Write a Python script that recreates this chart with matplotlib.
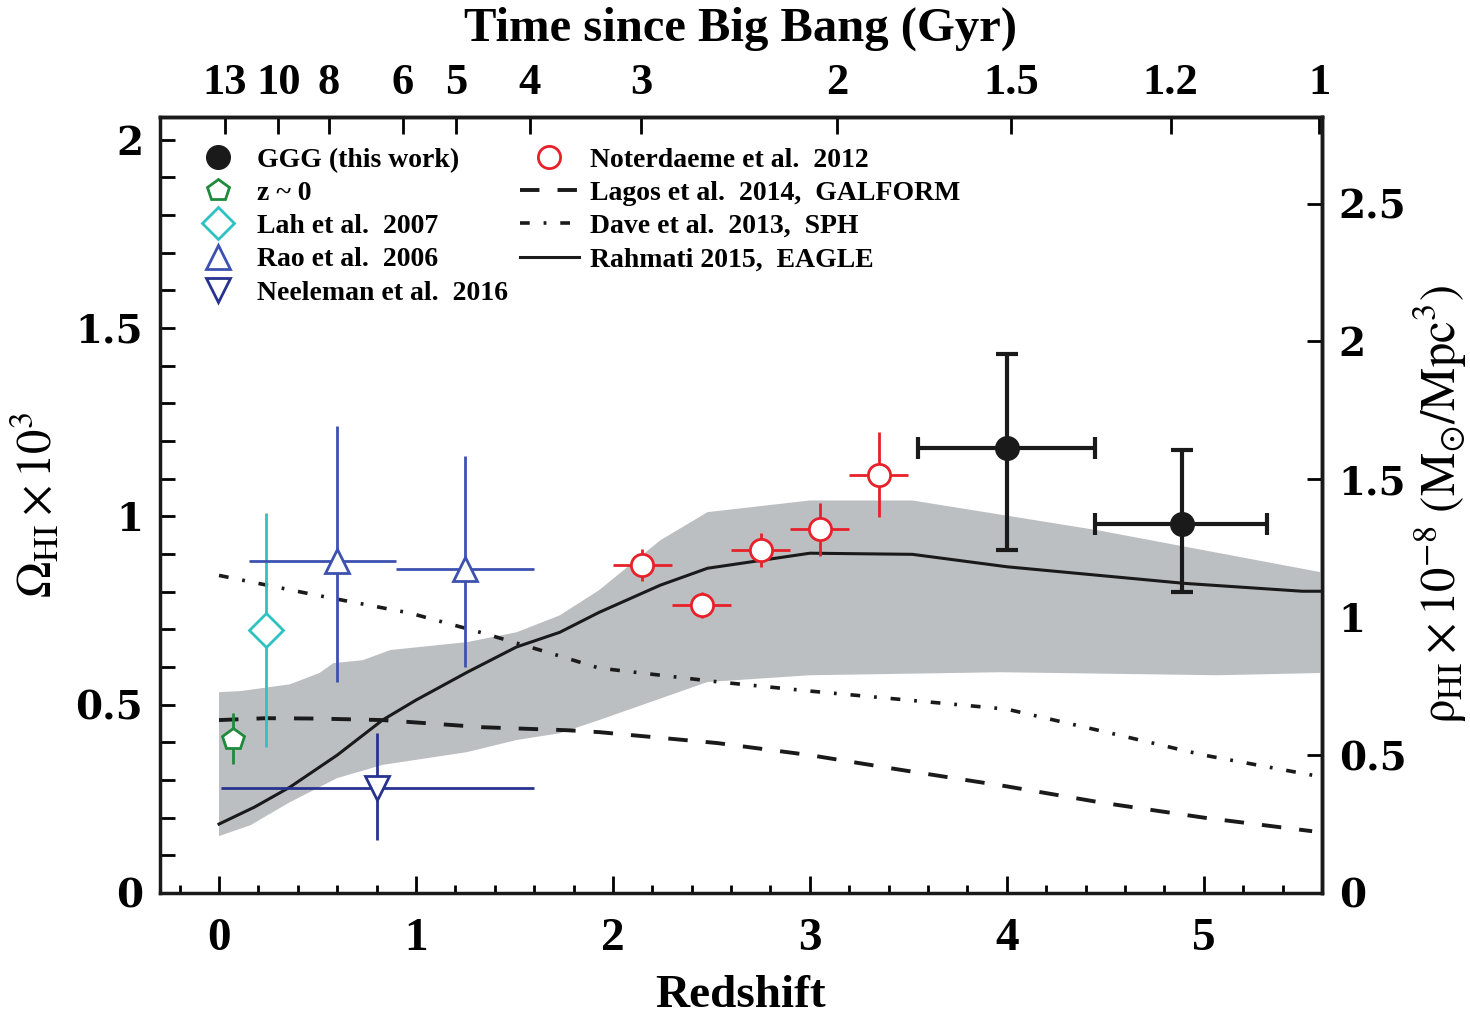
import numpy as np
import matplotlib
matplotlib.use('Agg')
import matplotlib.pyplot as plt
from matplotlib.lines import Line2D
from matplotlib.ticker import MultipleLocator, NullLocator, FuncFormatter

plt.rcParams['font.family'] = ['Liberation Serif', 'DejaVu Serif']
plt.rcParams['font.weight'] = 'normal'
plt.rcParams['mathtext.fontset'] = 'stix'
plt.rcParams['lines.scale_dashes'] = False

# ---- observations (Omega_HI x 1e3) ----
ggg_z = [4.00, 4.89]
ggg_om = [1.18, 0.98]
ggg_zlo = [0.45, 0.44]
ggg_zhi = [0.45, 0.43]
ggg_omlo = [0.27, 0.18]
ggg_omhi = [0.25, 0.195]

not_z = [2.15, 2.45, 2.75, 3.05, 3.35]
not_om = [0.87, 0.765, 0.91, 0.965, 1.11]
not_dz = [0.15, 0.15, 0.15, 0.15, 0.15]
not_dom = [0.042, 0.035, 0.045, 0.07, 0.113]

z0_z = [0.07]
z0_om = [0.41]
z0_dom = [0.067]

lah_z = [0.24]
lah_om = [0.698]
lah_dom = [0.31]

rao_z = [0.60, 1.25]
rao_om = [0.88, 0.86]
rao_zlo = [0.45, 0.35]
rao_zhi = [0.30, 0.35]
rao_omlo = [0.32, 0.26]
rao_omhi = [0.36, 0.30]

nee_z = [0.80]
nee_om = [0.28]
nee_zlo = [0.79]
nee_zhi = [0.80]
nee_omlo = [0.14]
nee_omhi = [0.145]

# ---- models ----
eagle_z = [0.0, 0.18, 0.36, 0.6, 0.83, 1.0, 1.26, 1.51, 1.73, 1.93, 2.24, 2.48,
           3.0, 3.52, 4.0, 4.9, 5.5, 5.6]
eagle_om = [0.183, 0.228, 0.281, 0.366, 0.459, 0.512, 0.586, 0.653, 0.692, 0.745,
            0.817, 0.862, 0.902, 0.899, 0.866, 0.822, 0.801, 0.801]

band_hi_z = [0.0, 0.11, 0.36, 0.51, 0.58, 0.73, 0.87, 1.26, 1.51, 1.73, 1.93, 2.24,
             2.48, 3.0, 3.52, 4.46, 5.6]
band_hi = [0.533, 0.536, 0.554, 0.584, 0.61, 0.618, 0.645, 0.666, 0.692, 0.737, 0.804,
           0.936, 1.011, 1.042, 1.042, 0.963, 0.851]
band_lo_z = [0.0, 0.16, 0.36, 0.6, 0.83, 1.26, 1.51, 1.73, 1.93, 2.48, 3.0, 3.97, 5.07, 5.6]
band_lo = [0.151, 0.18, 0.241, 0.305, 0.34, 0.374, 0.406, 0.424, 0.459, 0.56, 0.578,
           0.586, 0.578, 0.584]

lagos_z = [0.0, 0.24, 0.5, 0.83, 1.34, 1.77, 1.93, 2.53, 3.0, 3.46, 4.0, 4.48, 5.0, 5.55]
lagos_om = [0.459, 0.464, 0.463, 0.459, 0.44, 0.432, 0.427, 0.398, 0.366, 0.327, 0.283,
            0.24, 0.2, 0.164]

dave_z = [0.0, 0.5, 0.97, 1.34, 1.68, 1.93, 2.54, 3.0, 3.5, 4.0, 4.48, 5.0, 5.6]
dave_om = [0.843, 0.79, 0.743, 0.69, 0.637, 0.597, 0.56, 0.536, 0.512, 0.488, 0.43,
           0.366, 0.308]

age_ticks = [13, 10, 8, 6, 5, 4, 3, 2, 1.5, 1.2, 1]
rho_per_omega = 1.366

# flat LCDM
H0 = 70.3
om_m = 0.3
om_l = 0.7
t_h = 977.8 / H0


def z_to_age(z):
    z = np.clip(np.asarray(z, float), -0.9, None)
    return 2.0 / (3.0 * np.sqrt(om_l)) * t_h * np.arcsinh(np.sqrt(om_l / om_m) * (1 + z) ** -1.5)


def age_to_z(t):
    t = np.clip(np.asarray(t, float), 1e-3, None)
    a = np.sinh(1.5 * np.sqrt(om_l) * t / t_h) / np.sqrt(om_l / om_m)
    return a ** (-2.0 / 3.0) - 1


green = '#1f8a3c'
cyan = '#2fc2c2'
blue = '#3d52b0'
navy = '#27338f'
red = '#e8202a'
band_col = '#bcbfc2'
ink = '#1a1a1a'
dash_a = (14, 13)
dash_b = (7, 10, 2, 10)

fig = plt.figure(figsize=(14.7, 10.18), dpi=100)
ax = fig.add_axes([0.1088, 0.1228, 0.7905, 0.7623])

ax.fill(np.r_[band_hi_z, band_lo_z[::-1]], np.r_[band_hi, band_lo[::-1]],
        color=band_col, lw=0, zorder=1)
ax.plot(eagle_z, eagle_om, color=ink, lw=2.2, zorder=2)
ax.plot(lagos_z, lagos_om, color=ink, lw=2.8, dashes=dash_a, zorder=2)
ax.plot(dave_z, dave_om, color=ink, lw=2.6, dashes=dash_b, zorder=2)

ax.errorbar(z0_z, z0_om, yerr=z0_dom, fmt='p', ms=16, mfc='white', mec=green, mew=2,
            ecolor=green, elinewidth=2, zorder=4)
ax.errorbar(lah_z, lah_om, yerr=lah_dom, fmt='D', ms=17, mfc='white', mec=cyan, mew=2,
            ecolor=cyan, elinewidth=2, zorder=4)
ax.errorbar(rao_z, rao_om, xerr=[rao_zlo, rao_zhi], yerr=[rao_omlo, rao_omhi], fmt='^',
            ms=17, mfc='white', mec=blue, mew=2, ecolor=blue, elinewidth=2, zorder=4)
ax.errorbar(nee_z, nee_om, xerr=[nee_zlo, nee_zhi], yerr=[nee_omlo, nee_omhi], fmt='v',
            ms=17, mfc='white', mec=navy, mew=2, ecolor=navy, elinewidth=2, zorder=4)
ax.errorbar(not_z, not_om, xerr=not_dz, yerr=not_dom, fmt='o', ms=16, mfc='white',
            mec=red, mew=2, ecolor=red, elinewidth=2, zorder=5)
ax.errorbar(ggg_z, ggg_om, xerr=[ggg_zlo, ggg_zhi], yerr=[ggg_omlo, ggg_omhi], fmt='o',
            ms=17, color=ink, elinewidth=3, capsize=8, capthick=3, zorder=6)

ax.set_xlim(-0.3, 5.6)
ax.set_ylim(0, 2.06)

for sp in ax.spines.values():
    sp.set_linewidth(2.5)
    sp.set_color(ink)

ax.xaxis.set_major_locator(MultipleLocator(1))
ax.xaxis.set_minor_locator(MultipleLocator(0.2))
ax.yaxis.set_major_locator(MultipleLocator(0.5))
ax.yaxis.set_minor_locator(MultipleLocator(0.1))
fmt = FuncFormatter(lambda v, p: '%g' % v)
ax.yaxis.set_major_formatter(fmt)
ax.xaxis.get_offset_text().set_visible(False)
ax.yaxis.get_offset_text().set_visible(False)
ax.tick_params(axis='x', which='major', direction='in', length=12, width=2, pad=18,
               labelsize=34, top=False)
ax.tick_params(axis='x', which='minor', direction='in', length=6, width=2, top=False)
ax.tick_params(axis='y', which='both', direction='in', length=11, width=2, right=False)
ax.tick_params(axis='y', which='major', pad=12)
for lab in ax.get_xticklabels():
    lab.set_fontweight('bold')
for lab in ax.get_yticklabels():
    lab.set_fontfamily('DejaVu Serif')
    lab.set_fontweight('bold')
    lab.set_fontsize(28)

# right axis: rho_HI
secy = ax.secondary_yaxis('right', functions=(lambda o: o * rho_per_omega,
                                              lambda r: r / rho_per_omega))
secy.yaxis.set_major_locator(MultipleLocator(0.5))
secy.yaxis.set_minor_locator(NullLocator())
secy.yaxis.set_major_formatter(fmt)
secy.yaxis.get_offset_text().set_visible(False)
secy.xaxis.get_offset_text().set_visible(False)
secy.tick_params(axis='y', direction='in', length=11, width=2, pad=12)
for lab in secy.get_yticklabels():
    lab.set_fontfamily('DejaVu Serif')
    lab.set_fontweight('bold')
    lab.set_fontsize(28)
secy.spines['right'].set_linewidth(2.5)
secy.set_ylabel(r'$\mathrm{\rho_{HI}}\times10^{-8}\ (\mathrm{M_{\odot}/Mpc^{3}})$',
                fontsize=35, labelpad=4)

# top axis: cosmic time
secx = ax.secondary_xaxis('top', functions=(z_to_age, age_to_z))
secx.set_xticks(age_ticks)
secx.set_xticklabels(['%g' % t for t in age_ticks], fontsize=32, fontweight='bold')
secx.xaxis.set_minor_locator(NullLocator())
secx.xaxis.get_offset_text().set_visible(False)
secx.tick_params(axis='x', direction='in', length=12, width=2, pad=10)
secx.spines['top'].set_linewidth(2.5)
secx.set_xlabel('Time since Big Bang (Gyr)', fontsize=35, fontweight='bold', labelpad=16)

ax.set_xlabel('Redshift', fontsize=34, fontweight='bold', labelpad=11)
ax.set_ylabel(r'$\Omega_{\mathrm{HI}}\times10^{3}$', fontsize=35, labelpad=10)

# legends
h1 = [Line2D([], [], ls='none', marker='o', ms=17, color=ink),
      Line2D([], [], ls='none', marker='p', ms=16, mfc='white', mec=green, mew=2),
      Line2D([], [], ls='none', marker='D', ms=16, mfc='white', mec=cyan, mew=2),
      Line2D([], [], ls='none', marker='^', ms=17, mfc='white', mec=blue, mew=2),
      Line2D([], [], ls='none', marker='v', ms=17, mfc='white', mec=navy, mew=2)]
l1 = ['GGG (this work)', 'z ~ 0', 'Lah et al.  2007', 'Rao et al.  2006',
      'Neeleman et al.  2016']
h2 = [Line2D([], [], ls='none', marker='o', ms=16, mfc='white', mec=red, mew=2),
      Line2D([], [], color=ink, lw=2.8, dashes=dash_a),
      Line2D([], [], color=ink, lw=2.6, dashes=dash_b),
      Line2D([], [], color=ink, lw=2.2)]
l2 = ['Noterdaeme et al.  2012', 'Lagos et al.  2014,  GALFORM',
      'Dave et al.  2013,  SPH', 'Rahmati 2015,  EAGLE']

leg1 = ax.legend(h1, l1, loc='upper left', bbox_to_anchor=(0.032, 0.961), frameon=False,
                 borderpad=0, borderaxespad=0, handlelength=1.5, handletextpad=0.65,
                 labelspacing=0.28, prop={'size': 20, 'weight': 'bold'})
ax.add_artist(leg1)
ax.legend(h2, l2, loc='upper left', bbox_to_anchor=(0.31, 0.961), frameon=False,
          borderpad=0, borderaxespad=0, handlelength=2.1, handletextpad=0.4,
          labelspacing=0.28, prop={'size': 20, 'weight': 'bold'})

fig.savefig('out.png', dpi=100)
